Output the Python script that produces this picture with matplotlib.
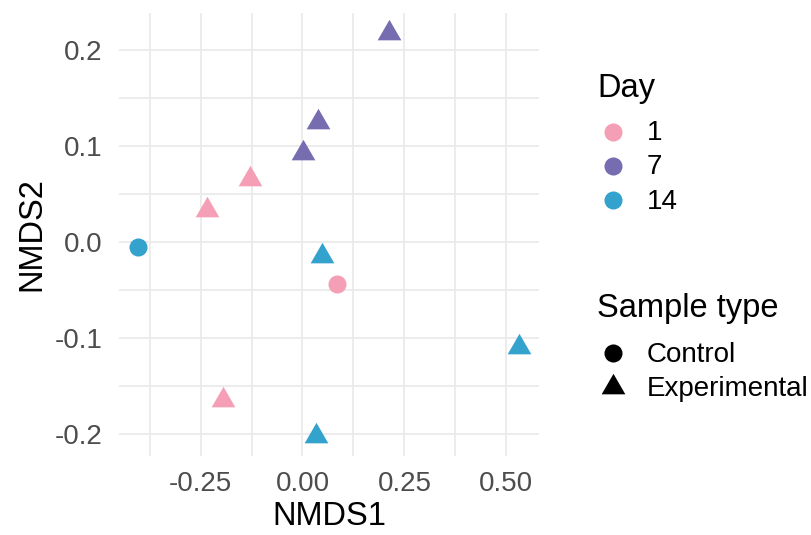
import matplotlib
matplotlib.use("Agg")
import matplotlib.pyplot as plt
from matplotlib.path import Path
from matplotlib.lines import Line2D
import numpy as np

plt.rcParams['font.family'] = ['Liberation Sans', 'DejaVu Sans']

# Data
nmds1 = [0.211, 0.039, 0.002, -0.128, -0.233, -0.403, 0.047, 0.084, 0.532, -0.195, 0.033]
nmds2 = [0.218, 0.125, 0.093, 0.066, 0.034, -0.005, -0.014, -0.044, -0.109, -0.165, -0.202]
day = ['7', '7', '7', '1', '1', '14', '14', '1', '14', '1', '14']
sample_type = ['Experimental', 'Experimental', 'Experimental', 'Experimental', 'Experimental',
               'Control', 'Experimental', 'Control', 'Experimental', 'Experimental', 'Experimental']

day_levels = ['1', '7', '14']
day_colors = {'1': '#F49FB6', '7': '#766CB0', '14': '#33A2CC'}
type_levels = ['Control', 'Experimental']

x_ticks = [-0.25, 0.0, 0.25, 0.5]
x_ticklabels = ['-0.25', '0.00', '0.25', '0.50']
y_ticks = [-0.2, -0.1, 0.0, 0.1, 0.2]
y_ticklabels = ['-0.2', '-0.1', '0.0', '0.1', '0.2']

tri = Path([(0, 1), (-0.8660254, -0.5), (0.8660254, -0.5), (0, 1)],
           [Path.MOVETO, Path.LINETO, Path.LINETO, Path.CLOSEPOLY])
type_markers = {'Control': 'o', 'Experimental': tri}
type_sizes = {'Control': 13.0, 'Experimental': 19.7}

W, H = 812, 535
fig = plt.figure(figsize=(W / 100, H / 100), dpi=100)
ax = fig.add_axes([119 / W, 1 - 456 / H, (539 - 119) / W, (456 - 13) / H])

for s in type_levels:
    for d in day_levels:
        idx = [i for i in range(len(nmds1)) if day[i] == d and sample_type[i] == s]
        if not idx:
            continue
        ax.scatter([nmds1[i] for i in idx], [nmds2[i] for i in idx],
                   marker=type_markers[s], s=type_sizes[s] ** 2,
                   color=day_colors[d], linewidths=0, zorder=3)

ax.set_xlim(-0.450, 0.580)
ax.set_ylim(-0.223, 0.239)
ax.set_xticks(x_ticks)
ax.set_xticklabels(x_ticklabels)
ax.set_yticks(y_ticks)
ax.set_yticklabels(y_ticklabels)
ax.set_xticks([-0.375, -0.125, 0.125, 0.375], minor=True)
ax.set_yticks([-0.15, -0.05, 0.05, 0.15], minor=True)
ax.grid(True, which='both', color='#EBEBEB', linewidth=1.3, zorder=0)
ax.set_axisbelow(True)
for sp in ax.spines.values():
    sp.set_visible(False)
ax.tick_params(which='both', length=0, labelsize=20, labelcolor='#4D4D4D')
ax.tick_params(axis='y', pad=12)
ax.tick_params(axis='x', pad=11)
ax.set_xlabel('NMDS1', fontsize=23.5, labelpad=3)
ax.set_ylabel('NMDS2', fontsize=23.5, labelpad=5)

# Legends (manual, ggplot-like)
def fx(px):
    return px / W

def fy(py):
    return 1 - py / H

fig.text(fx(597), fy(88), 'Day', fontsize=23.5, va='center', ha='left')
for k, (d, py) in enumerate(zip(day_levels, [132, 166, 200])):
    fig.add_artist(Line2D([fx(613)], [fy(py)], marker='o', markersize=13,
                          color=day_colors[d], markeredgewidth=0, linestyle='none',
                          transform=fig.transFigure))
    fig.text(fx(647), fy(py + 1.5), d, fontsize=20, va='center', ha='left')

fig.text(fx(597), fy(309), 'Sample type', fontsize=23.5, va='center', ha='left')
for s, py in zip(type_levels, [353, 387]):
    fig.add_artist(Line2D([fx(613)], [fy(py)], marker=type_markers[s],
                          markersize=type_sizes[s], color='black', markeredgewidth=0,
                          linestyle='none', transform=fig.transFigure))
    fig.text(fx(647), fy(py + 1.5), s, fontsize=20, va='center', ha='left')

fig.savefig('out.png', dpi=100)
